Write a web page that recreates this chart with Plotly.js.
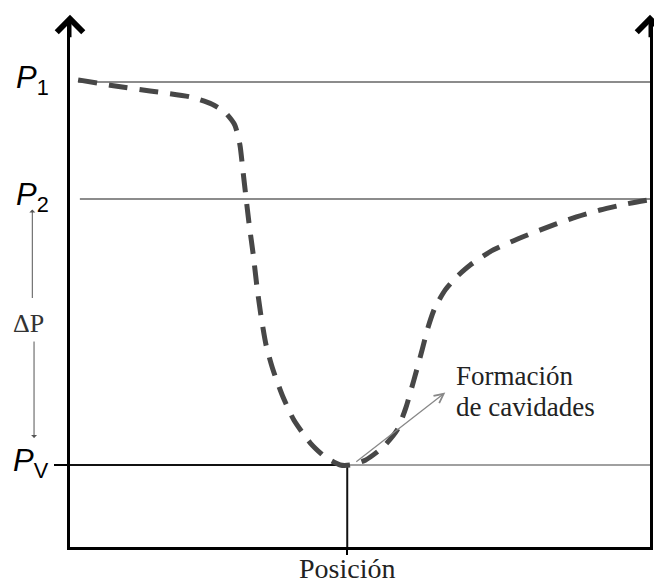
<!DOCTYPE html>
<html>
<head>
<meta charset="utf-8">
<script src="https://cdn.plot.ly/plotly-3.0.1.min.js"></script>
<style>html,body{margin:0;padding:0;background:#fff;}#chart{width:654px;height:585px;}</style>
</head>
<body>
<div id="chart"></div>
<script>
// Pressure profile along the flow (position 0-100, pressure 0-100, arbitrary units)
const position = [1.4, 6.9, 13.8, 20.7, 24.5, 26.7, 28.4, 29.3, 29.8, 30.3, 30.9, 31.6, 32.2, 32.9, 33.8, 35.0, 36.6, 38.6, 41.4, 44.0, 46.6, 48.3, 50.9, 54.0, 56.4, 57.9, 59.3, 60.7, 61.7, 62.9, 64.7, 66.6, 69.0, 72.4, 76.7, 81.0, 86.2, 91.4, 95.7, 99.7];
const pressure = [88.3, 87.3, 86.2, 85.1, 83.7, 82.2, 79.8, 76.0, 71.3, 66.5, 60.9, 55.2, 49.5, 43.9, 38.2, 33.5, 28.7, 24.0, 19.7, 17.0, 15.5, 15.5, 16.4, 18.9, 22.1, 26.3, 31.6, 37.2, 41.4, 45.2, 48.6, 51.0, 53.3, 55.8, 58.0, 59.9, 62.0, 63.7, 64.8, 65.6];

// Reference pressure levels
const levelLabels = ['<i>P</i><sub>1</sub>', '<i>P</i><sub>2</sub>', '<i>P</i><sub>V</sub>'];
const levelValues = [87.9, 65.8, 15.5];   // P1, P2, Pv
const levelStart = [1.4, 1.7, 0];         // where each reference line starts
const cavitationPosition = 47.8;          // position of minimum pressure
const xLabel = 'Posición';
const deltaLabel = 'ΔP';
const cavLines = ['Formación', 'de cavidades'];

const P1 = levelValues[0], P2 = levelValues[1], PV = levelValues[2];
const gray = '#8c8c8c';

const traces = [
  {x: [levelStart[0], 100], y: [P1, P1], mode: 'lines', line: {color: gray, width: 2}},
  {x: [levelStart[1], 100], y: [P2, P2], mode: 'lines', line: {color: gray, width: 2}},
  {x: [cavitationPosition, 100], y: [PV, PV], mode: 'lines', line: {color: '#a0a0a0', width: 2}},
  {x: [levelStart[2], cavitationPosition], y: [PV, PV], mode: 'lines', line: {color: '#111', width: 2}},
  {x: [cavitationPosition, cavitationPosition], y: [0, PV], mode: 'lines', line: {color: '#111', width: 2}},
  {x: position, y: pressure, mode: 'lines', line: {color: '#474747', width: 5, dash: '19px,12px', shape: 'spline', smoothing: 0.6}}
];

const serif = 'Liberation Serif, Times New Roman, serif';
const sans = 'Liberation Sans, Arial, sans-serif';

const annotations = [];
// P labels
levelLabels.forEach((t, i) => {
  annotations.push({x: 0, xref: 'paper', xanchor: 'right', xshift: -19, y: levelValues[i], yref: 'y', yanchor: 'middle', yshift: 2,
    text: t, showarrow: false, font: {family: sans, size: 31, color: '#000'}});
});
// axis arrowheads
[0, 1].forEach(xv => {
  annotations.push({x: xv, y: 1.006, xref: 'paper', yref: 'paper', ax: 0, ay: 24, text: '', showarrow: true,
    arrowhead: 4, arrowsize: 1.7, arrowwidth: 3, arrowcolor: '#000'});
});
// ΔP label and arrows
annotations.push({x: -0.072, y: 42.3, xref: 'paper', yref: 'y', xanchor: 'center', yanchor: 'middle', text: deltaLabel, showarrow: false,
  font: {family: serif, size: 26, color: '#333'}});
annotations.push({x: -0.065, y: 63.8, xref: 'paper', yref: 'y', ax: 0, ay: 90, text: '', showarrow: true,
  arrowhead: 1, arrowsize: 1, arrowwidth: 1, arrowcolor: '#555'});
annotations.push({x: -0.062, y: 20.6, xref: 'paper', yref: 'y', ax: 0, ay: -98, text: '', showarrow: true,
  arrowhead: 1, arrowsize: 1, arrowwidth: 1, arrowcolor: '#555'});
// cavitation arrow and label
annotations.push({x: 64.7, y: 29.2, xref: 'x', yref: 'y', axref: 'x', ayref: 'y', ax: 49.1, ay: 15.9, text: '', showarrow: true,
  arrowhead: 5, arrowsize: 1.4, arrowwidth: 1.3, arrowcolor: '#888'});
const cavY = [32.3, 26.4];
cavLines.forEach((t, i) => {
  annotations.push({x: 66.2, y: cavY[i], xref: 'x', yref: 'y', xanchor: 'left', yanchor: 'middle', text: t, showarrow: false,
    font: {family: serif, size: 27, color: '#222'}});
});
// x-axis label under the position mark
annotations.push({x: cavitationPosition, y: -0.040, xref: 'x', yref: 'paper', xanchor: 'center', yanchor: 'middle', text: xLabel,
  showarrow: false, font: {family: serif, size: 28, color: '#222'}});

const layout = {
  width: 654, height: 585, autosize: false,
  margin: {l: 70, r: 4, t: 18, b: 38, pad: 0},
  paper_bgcolor: '#fff', plot_bgcolor: '#fff',
  showlegend: false,
  xaxis: {range: [0, 100], showgrid: false, zeroline: false, showline: true, linecolor: '#000', linewidth: 3,
    tickmode: 'array', tickvals: [cavitationPosition], ticktext: [''], ticks: 'outside', ticklen: 5, tickwidth: 1.5, tickcolor: '#000',
    showticklabels: false, fixedrange: true},
  yaxis: {range: [0, 100], showgrid: false, zeroline: false, showline: true, mirror: true, linecolor: '#000', linewidth: 3,
    tickmode: 'array', tickvals: [PV], ticks: 'outside', ticklen: 13, tickwidth: 1.5, tickcolor: '#000', showticklabels: false, fixedrange: true},
  annotations: annotations
};

Plotly.newPlot('chart', traces, layout, {displayModeBar: false, staticPlot: true});
</script>
</body>
</html>
